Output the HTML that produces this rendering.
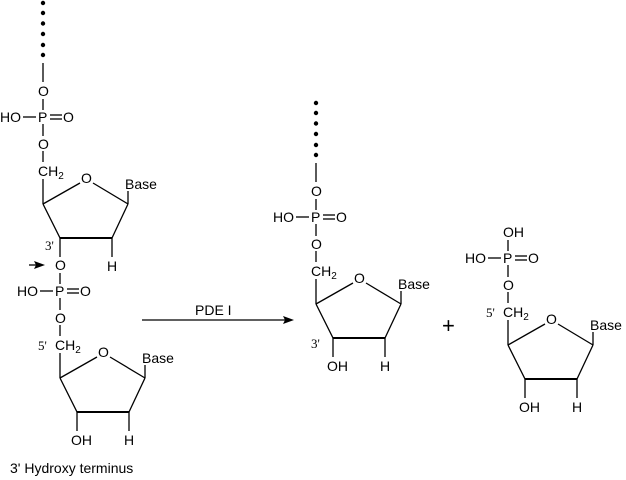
<!DOCTYPE html>
<html><head><style>body{margin:0;background:#fff}svg{display:block}text{font-family:"Liberation Sans",sans-serif;font-size:14px;fill:#000}</style></head><body>
<svg width="626" height="480" viewBox="0 0 626 480" xmlns="http://www.w3.org/2000/svg">
<defs>
<g id="u" stroke="#000" stroke-width="1.3" fill="none">
<line x1="0" y1="-18" x2="0" y2="-7"/>
<line x1="-20" y1="0" x2="-7" y2="0"/>
<line x1="7" y1="-2" x2="19" y2="-2"/><line x1="7" y1="2" x2="19" y2="2"/>
<line x1="0" y1="7" x2="0" y2="19"/>
<line x1="0" y1="34" x2="0" y2="45"/>
<line x1="0" y1="62" x2="0" y2="87"/>
<line x1="0" y1="87" x2="37" y2="66"/>
<line x1="50" y1="66" x2="85" y2="87"/>
<line x1="85" y1="87" x2="85" y2="74"/>
<line x1="85" y1="87" x2="69" y2="121"/>
<line x1="69" y1="121" x2="17" y2="121" stroke-width="1.9"/>
<line x1="17" y1="121" x2="0" y2="87"/>
<line x1="69" y1="121" x2="69" y2="140"/>
<line x1="17" y1="121" x2="17" y2="140"/>
</g>
<g id="t">
<text x="-43" y="5">HO</text><text x="-5" y="5">P</text><text x="20" y="5">O</text>
<text x="-5" y="32">O</text>
<text x="-5" y="59">CH<tspan style="font-size:10px" dy="3">2</tspan></text>
<text x="38" y="66">O</text>
<text x="82" y="72">Base</text>
<text x="64" y="154">H</text>
</g>
</defs>
<g fill="#000"><circle cx="43" cy="3" r="2.2"/><circle cx="43" cy="13" r="2.2"/><circle cx="43" cy="23.5" r="2.2"/><circle cx="43" cy="34" r="2.2"/><circle cx="43" cy="45" r="2.2"/><circle cx="43" cy="55" r="2.2"/>
<circle cx="316" cy="103" r="2.2"/><circle cx="316" cy="113" r="2.2"/><circle cx="316" cy="123.5" r="2.2"/><circle cx="316" cy="134" r="2.2"/><circle cx="316" cy="145" r="2.2"/><circle cx="316" cy="155" r="2.2"/></g>
<line x1="43" y1="63" x2="43" y2="82" stroke="#000" stroke-width="1.3"/>
<line x1="316" y1="163" x2="316" y2="182" stroke="#000" stroke-width="1.3"/>
<g transform="translate(43,117)"><use href="#u"/><use href="#t"/><text x="-5" y="-21">O</text><text x="2" y="133" style="font-family:'Liberation Serif',serif;font-size:13px">3'</text></g>
<g transform="translate(60,291)"><use href="#u"/><use href="#t"/><text x="-5" y="-21">O</text><text x="-22" y="59" style="font-family:'Liberation Serif',serif;font-size:13px">5'</text><text x="11" y="154">OH</text></g>
<g transform="translate(316,217)"><use href="#u"/><use href="#t"/><text x="-5" y="-21">O</text><text x="-5" y="131" style="font-family:'Liberation Serif',serif;font-size:13px">3'</text><text x="11" y="154">OH</text></g>
<g transform="translate(508,258)"><use href="#u"/><use href="#t"/><text x="-5" y="-21">OH</text><text x="-22" y="59" style="font-family:'Liberation Serif',serif;font-size:13px">5'</text><text x="11" y="154">OH</text></g>
<path d="M29 265 L38 265" stroke="#000" stroke-width="1.3"/><path d="M45 265 L34 261 L36 265 L34 269 Z" fill="#000"/>
<line x1="142" y1="320" x2="286" y2="320" stroke="#000" stroke-width="1.2"/>
<path d="M294 320 L283 316 L285 320 L283 324 Z" fill="#000"/>
<text x="195" y="315">PDE I</text>
<text x="442" y="333" style="font-size:22px">+</text>
<text x="10" y="473">3' Hydroxy terminus</text>
</svg>
</body></html>
